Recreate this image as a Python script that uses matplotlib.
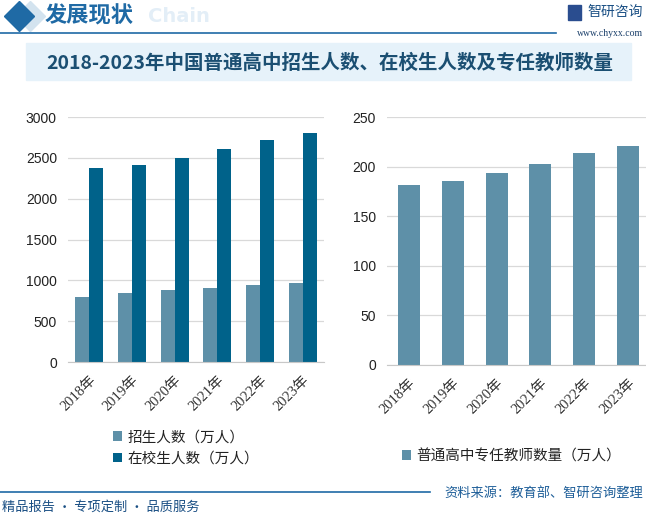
import matplotlib
matplotlib.use("Agg")
import matplotlib.pyplot as plt
from matplotlib.lines import Line2D
from matplotlib.patches import Rectangle
import numpy as np

plt.rcParams['font.family'] = ['Noto Sans CJK SC', 'DejaVu Sans']

years = ["2018年", "2019年", "2020年", "2021年", "2022年", "2023年"]
enrolment = [792.7, 839.5, 876.4, 905.0, 947.5, 967.8]        # 招生人数（万人）
in_school = [2375.4, 2414.3, 2494.5, 2605.0, 2713.9, 2803.6]  # 在校生人数（万人）
teachers = [181.3, 185.9, 193.3, 202.8, 213.3, 221.2]         # 专任教师数量（万人）

light = "#5e90a8"
dark = "#00628a"
blue = "#1f6aa5"
W, H = 646, 514

fig = plt.figure(figsize=(W / 100, H / 100), dpi=100)


def fx(px):
    return px / W


def fy(py):
    return 1 - py / H


# header
fig.add_artist(Line2D([fx(30)], [fy(16)], marker="D", markersize=15,
                      color="#d3e3ef", transform=fig.transFigure))
fig.add_artist(Line2D([fx(19)], [fy(16)], marker="D", markersize=15,
                      color=blue, transform=fig.transFigure))
fig.text(fx(148), fy(17), "Chain", fontsize=14, fontweight="bold",
         color="#e3eef7", family="DejaVu Sans", va="center")
fig.text(fx(45), fy(16), "发展现状", fontsize=16, fontweight="bold",
         color=blue, va="center")
fig.add_artist(Line2D([0, fx(556)], [fy(33), fy(33)], color=blue, lw=1.2,
                      transform=fig.transFigure))
fig.text(fx(643), fy(12), "智研咨询", fontsize=10, color="#1a4f84",
         ha="right", va="center")
fig.add_artist(Rectangle((fx(568), fy(20)), fx(13), 15 / H, color="#2a4d8f",
                         transform=fig.transFigure))
fig.text(fx(643), fy(33), "www.chyxx.com", fontsize=7, color="#1a3f6a",
         ha="right", va="center", family="Liberation Serif")

# title box
fig.add_artist(Rectangle((fx(26), fy(80)), fx(631 - 26), 37 / H,
                         color="#e6f2fa", transform=fig.transFigure, zorder=1))
fig.text(fx(330), fy(63), "2018-2023年中国普通高中招生人数、在校生人数及专任教师数量",
         fontsize=14, fontweight="bold", color="#1b4f72",
         ha="center", va="center", zorder=2)

x = np.arange(len(years))
tick_font = dict(fontsize=10.5, color="#333333",
                 family=["Liberation Serif", "Noto Sans CJK SC"])


def style(ax):
    ax.set_facecolor("none")
    for s in ["top", "right", "left"]:
        ax.spines[s].set_visible(False)
    ax.spines["bottom"].set_color("#c8c8c8")
    ax.grid(axis="y", color="#d9d9d9", lw=0.9)
    ax.set_axisbelow(True)
    ax.tick_params(length=0, labelsize=10, labelcolor="#222222", pad=8)
    ax.set_xlim(-0.5, 5.5)
    ax.set_xticks(x)
    ax.set_xticklabels(years, rotation=45, ha="right", rotation_mode="anchor", **tick_font)
    for lab in ax.get_yticklabels():
        lab.set_family(["Liberation Sans", "DejaVu Sans"])


# left chart
ax1 = fig.add_axes([fx(68), fy(362), fx(256), 245 / H])
ax1.bar(x - 0.165, enrolment, 0.33, color=light, label="招生人数（万人）")
ax1.bar(x + 0.165, in_school, 0.33, color=dark, label="在校生人数（万人）")
ax1.set_ylim(0, 3000)
ax1.set_yticks(range(0, 3001, 500))
style(ax1)

# right chart
ax2 = fig.add_axes([fx(387), fy(365), fx(263), 248 / H])
ax2.bar(x, teachers, 0.5, color=light, label="普通高中专任教师数量（万人）")
ax2.set_ylim(0, 250)
ax2.set_yticks(range(0, 251, 50))
style(ax2)

leg1 = fig.legend(handles=ax1.patches[:1] + ax1.patches[6:7],
                  labels=["招生人数（万人）", "在校生人数（万人）"],
                  loc="upper left", bbox_to_anchor=(fx(100), fy(417)),
                  frameon=False, fontsize=10.5, handlelength=0.6, handleheight=0.6,
                  handletextpad=0.4, labelspacing=0.5)
leg2 = fig.legend(handles=ax2.patches[:1], labels=["普通高中专任教师数量（万人）"],
                  loc="upper left", bbox_to_anchor=(fx(389), fy(436)),
                  frameon=False, fontsize=10.5, handlelength=0.6, handleheight=0.6,
                  handletextpad=0.4)
for leg in (leg1, leg2):
    for t in leg.get_texts():
        t.set_color("#222222")

# footer
fig.add_artist(Line2D([0, fx(430)], [fy(492), fy(492)], color=blue, lw=1.2,
                      transform=fig.transFigure))
fig.text(fx(2), fy(507), "精品报告 · 专项定制 · 品质服务", fontsize=9.5,
         color="#1a4f84", va="center")
fig.text(fx(643), fy(493), "资料来源：教育部、智研咨询整理", fontsize=9.5,
         color="#1f5f99", ha="right", va="center")

fig.savefig("out.png", dpi=100)
